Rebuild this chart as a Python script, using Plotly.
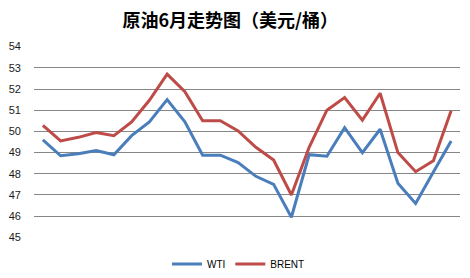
import plotly.graph_objects as go

days = list(range(1, 25))
wti = [49.6, 48.85, 48.95, 49.1, 48.9, 49.8, 50.45, 51.5, 50.45, 48.88, 48.88, 48.53,
       47.88, 47.5, 45.95, 48.9, 48.83, 50.18, 49.0, 50.1, 47.55, 46.6, 48.08, 49.55]
brent = [50.28, 49.55, 49.72, 49.95, 49.8, 50.45, 51.47, 52.7, 51.87, 50.5, 50.5, 50.02,
         49.25, 48.65, 47.0, 49.25, 51.0, 51.6, 50.53, 51.8, 49.0, 48.1, 48.62, 50.97]
yticks = [45, 46, 47, 48, 49, 50, 51, 52, 53, 54]
title = "原油6月走势图（美元/桶）"

fig = go.Figure()
fig.add_trace(go.Scatter(x=days, y=wti, mode="lines", name="WTI",
                         line=dict(color="#4A7EBB", width=3)))
fig.add_trace(go.Scatter(x=days, y=brent, mode="lines", name="BRENT",
                         line=dict(color="#BE4B48", width=3)))

fig.update_layout(
    width=470, height=278,
    margin=dict(l=34, r=10, t=46, b=40, autoexpand=False),
    paper_bgcolor="white", plot_bgcolor="white",
    title=dict(text="<b>" + title + "</b>", x=0.49, xanchor="center", yref="container", y=0.925,
               yanchor="middle",
               font=dict(family="Noto Sans CJK SC", size=18, color="#000000")),
    font=dict(family="Liberation Sans, Arial", size=11, color="#1a1a1a"),
    xaxis=dict(range=[0.5, 24.5], showgrid=False, showticklabels=False, zeroline=False,
               showline=False, fixedrange=True),
    yaxis=dict(range=[44.97, 54.03], tickvals=yticks, showgrid=True, gridcolor="#868686", gridwidth=1,
               zeroline=False, showline=False, ticklabelstandoff=12,
               tickfont=dict(family="Liberation Sans, Arial", size=11, color="#1a1a1a")),
    legend=dict(orientation="h", x=0.48, xanchor="center", yref="container", y=0.05, yanchor="middle",
                font=dict(family="Liberation Sans, Arial", size=10, color="#000000"),
                itemwidth=30, bgcolor="rgba(0,0,0,0)"),
    showlegend=True,
)

fig.write_html("out.html")
